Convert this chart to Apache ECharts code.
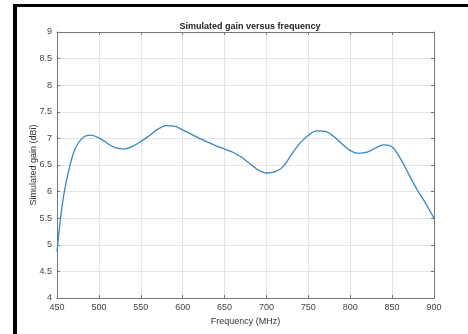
<!DOCTYPE html>
<html>
<head>
<meta charset="utf-8">
<script src="https://cdn.jsdelivr.net/npm/echarts@6/dist/echarts.min.js"></script>
<style>html,body{margin:0;padding:0;background:#fff;}#c{width:468px;height:334px;}</style>
</head>
<body>
<div id="c"></div>
<script>
const frequencies = [450,455,460,470,480,490,500,510,520,530,540,550,560,570,580,590,600,610,620,630,640,650,660,670,680,690,700,710,720,730,740,750,760,770,780,790,800,810,820,830,840,850,860,870,880,890,900];
const gain = [4.87,5.6,6.1,6.74,7.0,7.06,7.01,6.91,6.82,6.80,6.85,6.94,7.05,7.17,7.24,7.23,7.16,7.08,7.0,6.93,6.86,6.80,6.74,6.65,6.53,6.41,6.35,6.37,6.47,6.70,6.91,7.06,7.14,7.13,7.04,6.90,6.77,6.72,6.74,6.82,6.88,6.84,6.62,6.32,6.03,5.78,5.50];
const xTicks = [450,500,550,600,650,700,750,800,850,900];
const yTicks = [4,4.5,5,5.5,6,6.5,7,7.5,8,8.5,9];
const titleText = 'Simulated gain versus frequency';
const xName = 'Frequency (MHz)';
const yName = 'Simulated gain (dBi)';

const font = 'Liberation Sans, Arial, sans-serif';
const chart = echarts.init(document.getElementById('c'), null, {renderer: 'canvas'});
const pts = frequencies.map((f, i) => [f, gain[i]]);
const axisCommon = {
  axisLine: {show: true, onZero: false, lineStyle: {color: '#777', width: 1}},
  axisTick: {show: true, inside: true, length: 3, lineStyle: {color: '#777'}},
};
chart.setOption({
  animation: false,
  backgroundColor: '#fff',
  title: {
    text: titleText, left: 245, top: 17, textAlign: 'center',
    textStyle: {fontFamily: font, fontSize: 9, fontWeight: 'bold', color: '#222'}
  },
  grid: {left: 57, right: 34, top: 32, bottom: 36, containLabel: false},
  xAxis: [{
    type: 'value', min: xTicks[0], max: xTicks[xTicks.length-1], interval: 50,
    position: 'bottom',
    ...axisCommon,
    axisLabel: {fontFamily: font, fontSize: 9, color: '#444', margin: 5},
    splitLine: {show: true, lineStyle: {color: '#e4e4e4', width: 1}},
    name: xName, nameLocation: 'middle', nameGap: 19, nameMoveOverlap: false,
    nameTextStyle: {fontFamily: font, fontSize: 9, color: '#333'}
  }, {
    type: 'value', min: xTicks[0], max: xTicks[xTicks.length-1], interval: 50,
    position: 'top',
    ...axisCommon,
    axisLabel: {show: false}, splitLine: {show: false}
  }],
  yAxis: [{
    type: 'value', min: yTicks[0], max: yTicks[yTicks.length-1], interval: 0.5,
    position: 'left',
    ...axisCommon,
    axisLabel: {fontFamily: font, fontSize: 9, color: '#444', margin: 5},
    splitLine: {show: true, lineStyle: {color: '#e4e4e4', width: 1}},
    name: yName, nameLocation: 'middle', nameGap: 19, nameMoveOverlap: false,
    nameTextStyle: {fontFamily: font, fontSize: 9, color: '#333'}
  }, {
    type: 'value', min: yTicks[0], max: yTicks[yTicks.length-1], interval: 0.5,
    position: 'right',
    ...axisCommon,
    axisLabel: {show: false}, splitLine: {show: false}
  }],
  series: [{
    type: 'line', data: pts, smooth: 0.35, showSymbol: false,
    lineStyle: {color: '#3a87c0', width: 1.3}, xAxisIndex: 0, yAxisIndex: 0
  }],
  graphic: [
    {type: 'rect', shape: {x: 13, y: 4, width: 4, height: 334}, style: {fill: '#000'}},
    {type: 'rect', shape: {x: 13, y: 4, width: 455, height: 3}, style: {fill: '#000'}}
  ]
});
</script>
</body>
</html>
